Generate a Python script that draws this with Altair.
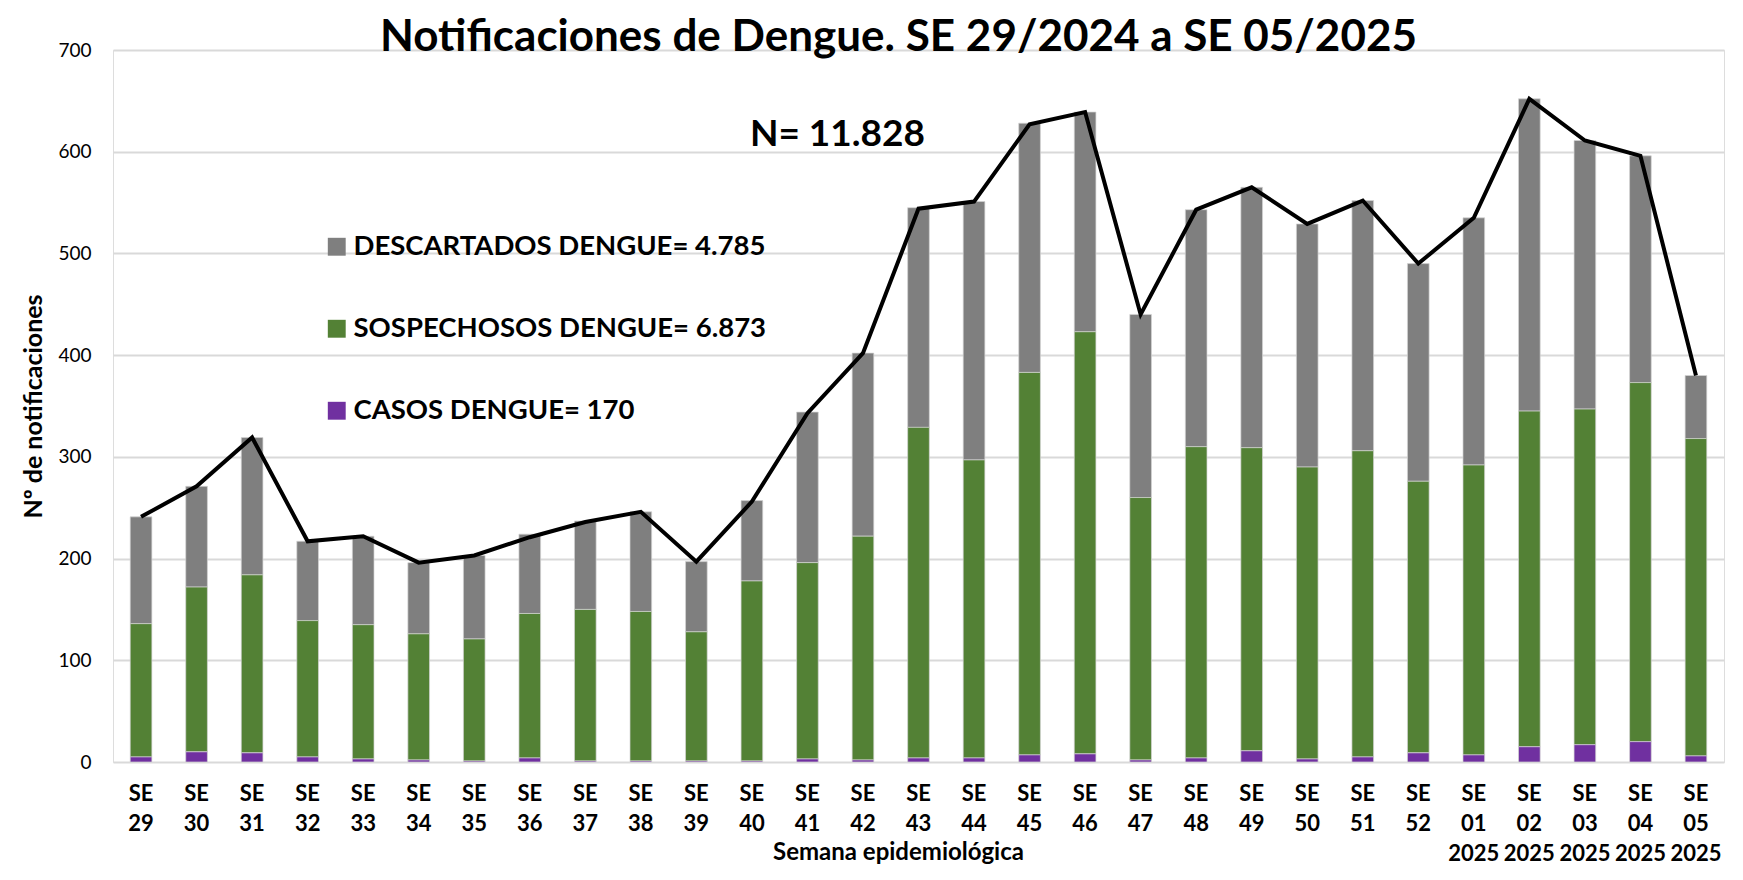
import altair as alt
import pandas as pd

semanas = ["SE 29", "SE 30", "SE 31", "SE 32", "SE 33", "SE 34", "SE 35", "SE 36", "SE 37",
           "SE 38", "SE 39", "SE 40", "SE 41", "SE 42", "SE 43", "SE 44", "SE 45", "SE 46",
           "SE 47", "SE 48", "SE 49", "SE 50", "SE 51", "SE 52", "SE 01 2025", "SE 02 2025",
           "SE 03 2025", "SE 04 2025", "SE 05 2025"]
casos = [5, 10, 9, 5, 3, 2, 1, 4, 1, 1, 1, 1, 3, 2, 4, 4, 7, 8, 2, 4, 11, 3, 5, 9, 7, 15, 17, 20, 6]
sospechosos = [131, 162, 175, 134, 132, 124, 120, 142, 149, 147, 127, 177, 193, 220, 325, 293, 376,
               415, 258, 306, 298, 287, 301, 267, 285, 330, 330, 353, 312]
descartados = [105, 99, 135, 78, 87, 70, 82, 78, 87, 98, 69, 79, 148, 180, 216, 254, 245, 216, 180,
               233, 256, 239, 246, 214, 243, 307, 264, 223, 62]
totales = [241, 271, 319, 217, 222, 196, 203, 221, 236, 246, 197, 256, 343, 402, 544, 551, 627, 639,
           440, 543, 565, 529, 552, 490, 535, 652, 611, 596, 380]

series = ["DESCARTADOS DENGUE= 4.785", "SOSPECHOSOS DENGUE= 6.873", "CASOS DENGUE= 170"]
colores = ["#7f7f7f", "#538135", "#7030a0"]
orden_pila = {series[2]: 0, series[1]: 1, series[0]: 2}

rows = []
for i, s in enumerate(semanas):
    for name, vals in zip(series, [descartados, sospechosos, casos]):
        rows.append({"semana": s, "serie": name, "valor": vals[i], "orden": orden_pila[name]})
df = pd.DataFrame(rows)
df_tot = pd.DataFrame({"semana": semanas, "total": totales})
df_n = pd.DataFrame({"semana": ["SE 41"], "y": [616], "txt": ["N= 11.828"]})

FONT = "Lato"
xscale = alt.Scale(domain=semanas, paddingInner=0.61, paddingOuter=0.31)
yscale = alt.Scale(domain=[0, 700])

xaxis = alt.Axis(labelAngle=0, labelExpr="split(datum.label, ' ')", labelFont=FONT,
                 labelFontSize=22, labelFontWeight="bold", labelColor="#000000",
                 labelLineHeight=30, labelPadding=21, labelOverlap=False, ticks=False,
                 domain=False, title="Semana epidemiológica", titleFont=FONT, titleFontSize=24,
                 titleFontWeight="bold", titleColor="#000000", titleX=785, titleY=90,
                 titleBaseline="middle", titleAlign="center")
yaxis = alt.Axis(values=[0, 100, 200, 300, 400, 500, 600, 700], grid=True, gridColor="#d9d9d9",
                 gridWidth=2, domain=False, ticks=False, labelFont=FONT, labelFontSize=19,
                 labelColor="#000000", labelPadding=22, title="Nº de notificaciones",
                 titleFont=FONT, titleFontSize=25, titleFontWeight="bold", titleColor="#000000",
                 titleX=-80, titleY=356, titleAngle=-90, titleAlign="center",
                 titleBaseline="middle")

bars = alt.Chart(df).mark_bar(stroke="#d4d4d4", strokeWidth=0.7).encode(
    x=alt.X("semana:N", scale=xscale, axis=xaxis, sort=semanas),
    y=alt.Y("valor:Q", stack="zero", scale=yscale, axis=yaxis),
    color=alt.Color("serie:N", scale=alt.Scale(domain=series, range=colores),
                    legend=alt.Legend(title=None, orient="none", legendX=210, legendY=183,
                                      symbolType="square", symbolSize=320, symbolStrokeWidth=0,
                                      labelFont=FONT, labelFontSize=27.5, labelFontWeight="bold",
                                      labelColor="#000000", rowPadding=53, labelOffset=3,
                                      padding=0, labelLimit=800)),
    order=alt.Order("orden:Q", sort="ascending"),
)

line = alt.Chart(df_tot).mark_line(color="#000000", strokeWidth=4, strokeJoin="miter").encode(
    x=alt.X("semana:N", scale=xscale, sort=semanas),
    y=alt.Y("total:Q", scale=yscale),
)

ntext = alt.Chart(df_n).mark_text(font=FONT, fontSize=37, fontWeight="bold", color="#000000",
                                  align="center", baseline="middle", dx=30).encode(
    x=alt.X("semana:N", scale=xscale, sort=semanas),
    y=alt.Y("y:Q", scale=yscale),
    text="txt:N",
)

chart = alt.layer(bars, line, ntext).properties(
    width=1611, height=712,
    padding={"left": 105, "top": 42, "right": 10, "bottom": 104},
    autosize=alt.AutoSizeParams(type="none"),
    title=alt.TitleParams("Notificaciones de Dengue. SE 29/2024 a SE  05/2025", font=FONT,
                          fontSize=44, fontWeight="bold", color="#000000", anchor="middle",
                          dx=-20, dy=21, offset=2),
).configure_view(stroke=None).configure(background="white")

chart.save("out.html", embed_options={"renderer": "svg", "actions": False})
